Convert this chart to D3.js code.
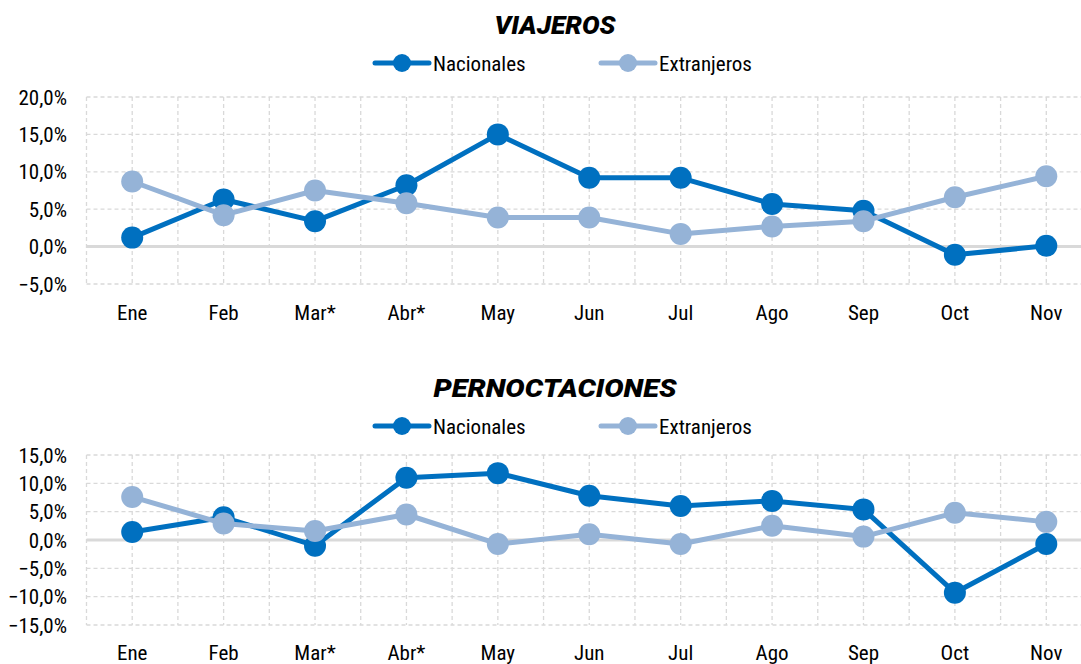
<!DOCTYPE html>
<html>
<head>
<meta charset="utf-8">
<script src="https://cdn.jsdelivr.net/npm/d3@7"></script>
<style>
  body { margin: 0; background: #fff; }
  svg { display: block; }
  text { font-family: "Roboto Condensed", "Liberation Sans Narrow", "Arial Narrow", sans-serif; font-weight: 400; fill: #000; }
  .title { font-family: Roboto, "Liberation Sans", sans-serif; font-weight: 900; font-style: italic; }
</style>
</head>
<body>
<div id="chart"></div>
<script>
const months = ["Ene", "Feb", "Mar*", "Abr*", "May", "Jun", "Jul", "Ago", "Sep", "Oct", "Nov"];
const seriesNames = ["Nacionales", "Extranjeros"];

// viajeros, % variation
const viajerosNac = [1.2, 6.3, 3.4, 8.2, 15.0, 9.2, 9.2, 5.7, 4.8, -1.1, 0.1];
const viajerosExt = [8.7, 4.2, 7.5, 5.8, 3.9, 3.9, 1.7, 2.7, 3.4, 6.6, 9.4];

// pernoctaciones, % variation
const pernocNac = [1.4, 4.0, -1.0, 11.0, 11.8, 7.8, 6.0, 6.9, 5.4, -9.3, -0.7];
const pernocExt = [7.6, 2.9, 1.6, 4.5, -0.7, 1.0, -0.7, 2.5, 0.6, 4.8, 3.2];

const viajerosTicks = [-5, 0, 5, 10, 15, 20];
const pernocTicks = [-15, -10, -5, 0, 5, 10, 15];

const colors = ["#0070C0", "#95B3D7"];

const svgWidth = 1081, svgHeight = 664;

const svg = d3.select("#chart").append("svg")
  .attr("width", svgWidth)
  .attr("height", svgHeight);

const fmt = v => d3.format(".1f")(v).replace(".", ",") + "%";

function drawPanel(cfg) {
  const g = svg.append("g");

  const x = d3.scaleBand().domain(months).range([86.5, 1092]);
  const y = d3.scaleLinear().domain(d3.extent(cfg.ticks)).range([cfg.bottom, cfg.top]);

  // title
  g.append("text")
    .attr("class", "title")
    .attr("x", 555)
    .attr("y", cfg.titleY)
    .attr("text-anchor", "middle")
    .style("font-size", "25px")
    .attr("textLength", cfg.titleLen)
    .attr("lengthAdjust", "spacingAndGlyphs")
    .text(cfg.title);

  // legend
  const leg = g.selectAll(".leg")
    .data(seriesNames)
    .enter()
    .append("g")
    .attr("transform", (d, i) => "translate(" + (375 + i * 226) + "," + cfg.legendY + ")");
  leg.append("line")
    .attr("x1", 0).attr("x2", 54)
    .attr("stroke", (d, i) => colors[i])
    .attr("stroke-width", 5)
    .attr("stroke-linecap", "round");
  leg.append("circle")
    .attr("cx", 27).attr("r", 9)
    .attr("fill", (d, i) => colors[i]);
  leg.append("text")
    .attr("x", 58).attr("dy", "0.36em")
    .style("font-size", "21px")
    .text(d => d);

  // horizontal grid
  g.append("g")
    .selectAll("line")
    .data(cfg.ticks.filter(t => t !== 0))
    .enter()
    .append("line")
    .attr("x1", x.range()[0]).attr("x2", x.range()[1])
    .attr("y1", d => y(d)).attr("y2", d => y(d))
    .attr("stroke", "#d9d9d9")
    .attr("stroke-width", 1.3)
    .attr("stroke-dasharray", "4,3");

  // vertical grid: category boundaries and centres
  const vx = [];
  months.forEach(m => { vx.push(x(m)); vx.push(x(m) + x.bandwidth() / 2); });
  vx.push(x.range()[1]);
  g.append("g")
    .selectAll("line")
    .data(vx)
    .enter()
    .append("line")
    .attr("x1", d => d).attr("x2", d => d)
    .attr("y1", y.range()[1]).attr("y2", y.range()[0])
    .attr("stroke", "#d9d9d9")
    .attr("stroke-width", 1.3)
    .attr("stroke-dasharray", "4,3");

  // zero line
  g.append("line")
    .attr("x1", x.range()[0]).attr("x2", x.range()[1])
    .attr("y1", y(0)).attr("y2", y(0))
    .attr("stroke", "#d9d9d9")
    .attr("stroke-width", 3);

  // y axis labels
  g.append("g")
    .selectAll("text")
    .data(cfg.ticks)
    .enter()
    .append("text")
    .attr("x", 67)
    .attr("y", d => y(d))
    .attr("dy", "0.36em")
    .attr("text-anchor", "end")
    .style("font-size", "21px")
    .text(fmt);

  // x axis labels
  g.append("g")
    .selectAll("text")
    .data(months)
    .enter()
    .append("text")
    .attr("x", d => x(d) + x.bandwidth() / 2)
    .attr("y", cfg.labelY)
    .attr("dy", "0.36em")
    .attr("text-anchor", "middle")
    .style("font-size", "21px")
    .text(d => d);

  const line = d3.line()
    .x((d, i) => x(months[i]) + x.bandwidth() / 2)
    .y(d => y(d));

  cfg.series.forEach((vals, si) => {
    const s = g.append("g");
    s.append("path")
      .datum(vals)
      .attr("fill", "none")
      .attr("stroke", colors[si])
      .attr("stroke-width", 5)
      .attr("stroke-linejoin", "round")
      .attr("d", line);
    s.selectAll("circle")
      .data(vals)
      .enter()
      .append("circle")
      .attr("cx", (d, i) => x(months[i]) + x.bandwidth() / 2)
      .attr("cy", d => y(d))
      .attr("r", 11)
      .attr("fill", colors[si]);
  });
}

drawPanel({
  title: "VIAJEROS",
  titleY: 34, titleLen: 121,
  legendY: 63,
  top: 97, bottom: 284,
  ticks: viajerosTicks,
  labelY: 312,
  series: [viajerosNac, viajerosExt]
});

drawPanel({
  title: "PERNOCTACIONES",
  titleY: 397, titleLen: 243,
  legendY: 426,
  top: 455, bottom: 625,
  ticks: pernocTicks,
  labelY: 652,
  series: [pernocNac, pernocExt]
});
</script>
</body>
</html>
